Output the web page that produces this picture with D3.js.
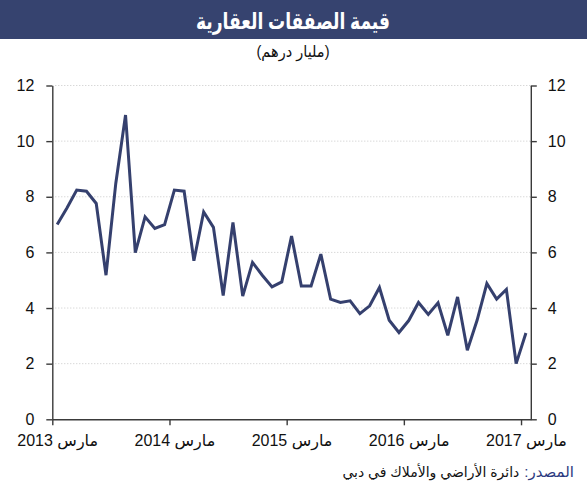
<!DOCTYPE html>
<html>
<head>
<meta charset="utf-8">
<script src="https://cdn.jsdelivr.net/npm/d3@7"></script>
<style>
  html, body { margin: 0; padding: 0; background: #fff; }
  svg { display: block; }
  text { font-family: "Liberation Sans", Arial, "DejaVu Sans", sans-serif; }
</style>
</head>
<body>
<svg id="chart" width="587" height="500"></svg>
<script>
// ---- data ----
const title = "قيمة الصفقات العقارية";
const subtitle = "(مليار درهم)";
const sourceLabel = "المصدر:";
const sourceText = "دائرة الأراضي والأملاك في دبي";
// monthly values, March 2013 .. March 2017 (billion AED)
const values = [
  7.0, 7.6, 8.24, 8.2, 7.76, 5.18, 8.48, 10.94, 5.99, 7.28, 6.86, 7.0,
  8.24, 8.2, 5.7, 7.45, 6.9, 4.45, 7.08, 4.43, 5.64, 5.18, 4.76, 4.94,
  6.59, 4.79, 4.79, 5.94, 4.32, 4.2, 4.26, 3.8, 4.08, 4.74, 3.56, 3.12,
  3.55, 4.2, 3.77, 4.19, 3.02, 4.4, 2.48, 3.56, 4.88, 4.32, 4.67, 2.0,
  3.1
];
const yearTickIdx = [0, 12, 24, 36, 48];
const yearLabels = ["مارس 2013", "مارس 2014", "مارس 2015", "مارس 2016", "مارس 2017"];
const yTicks = [0, 2, 4, 6, 8, 10, 12];

// ---- layout ----
const svg = d3.select("#chart");
const navy = "#35406e";
const axisColor = "#3a3a3a";

svg.append("rect").attr("x", 0).attr("y", 0).attr("width", 587).attr("height", 39).attr("fill", "#36436f");
svg.append("text").attr("x", 293).attr("y", 29).attr("text-anchor", "middle")
  .attr("direction", "rtl")
  .attr("fill", "#fff").attr("font-size", 23).attr("font-weight", "bold")
  .attr("textLength", 194).attr("lengthAdjust", "spacingAndGlyphs").text(title);
svg.append("text").attr("x", 293).attr("y", 57).attr("text-anchor", "middle")
  .attr("direction", "rtl")
  .attr("fill", "#111").attr("font-size", 16)
  .attr("textLength", 73).attr("lengthAdjust", "spacingAndGlyphs").text(subtitle);

const x = d3.scaleLinear().domain([0, values.length]).range([52.3, 530.8]);
const y = d3.scaleLinear().domain([0, 12]).range([419.3, 85.5]);

// gridlines
svg.append("g").selectAll("line").data(yTicks.filter(d => d > 0)).join("line")
  .attr("x1", x(0)).attr("x2", x(values.length))
  .attr("y1", d => y(d)).attr("y2", d => y(d))
  .attr("stroke", "#c8c8c8").attr("stroke-width", 1).attr("stroke-dasharray", "1,2");

function styleAxis(g) {
  g.selectAll("path.domain").attr("stroke", axisColor).attr("stroke-width", 1.4);
  g.selectAll(".tick line").attr("stroke", axisColor).attr("stroke-width", 1.4);
  g.selectAll(".tick text").attr("fill", "#111").attr("font-size", 16)
    .style("font-family", "\"Liberation Sans\", Arial, \"DejaVu Sans\", sans-serif");
}

const gl = svg.append("g").attr("transform", `translate(${x(0)},0)`)
  .call(d3.axisLeft(y).tickValues(yTicks).tickSize(6).tickSizeOuter(0).tickPadding(12).tickFormat(d3.format("d")));
styleAxis(gl);
const gr = svg.append("g").attr("transform", `translate(${x(values.length)},0)`)
  .call(d3.axisRight(y).tickValues(yTicks).tickSize(6).tickSizeOuter(0).tickPadding(11).tickFormat(d3.format("d")));
styleAxis(gr);

const gb = svg.append("g").attr("transform", `translate(0,${y(0)})`)
  .call(d3.axisBottom(x).tickValues(yearTickIdx).tickSize(6).tickSizeOuter(0).tickFormat(""));
styleAxis(gb);
const gbl = svg.append("g").attr("transform", `translate(0,${y(0)})`)
  .call(d3.axisBottom(x).tickValues(yearTickIdx.map(d => d + 0.5)).tickSize(0).tickPadding(15)
    .tickFormat((d, i) => yearLabels[i]));
gbl.select("path.domain").remove();
styleAxis(gbl);
gbl.selectAll(".tick text").attr("direction", "rtl");

// line
const line = d3.line().x((d, i) => x(i + 0.5)).y(d => y(d));
svg.append("path").datum(values).attr("d", line)
  .attr("fill", "none").attr("stroke", navy).attr("stroke-width", 3)
  .attr("stroke-linejoin", "miter").attr("stroke-miterlimit", 3);

// source (label in blue at right, text to its left)
const lbl = svg.append("text").attr("x", 574).attr("y", 477).attr("text-anchor", "start")
  .attr("direction", "rtl").attr("font-size", 15)
  .attr("fill", "#2c3a80").text(sourceLabel);
const lw = lbl.node().getComputedTextLength();
svg.append("text").attr("x", 574 - lw - 5).attr("y", 477).attr("text-anchor", "start")
  .attr("direction", "rtl").attr("font-size", 14)
  .attr("fill", "#111").text(sourceText);
</script>
</body>
</html>
